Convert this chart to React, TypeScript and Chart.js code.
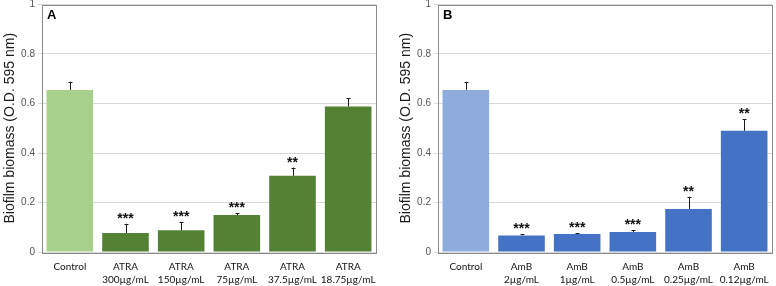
import React, { useEffect, useRef } from "react";
import { Chart, registerables } from "chart.js";

Chart.register(...registerables);

// ---- Data ----
const labelsA: string[][] = [
  ["Control"],
  ["ATRA", "300µg/mL"],
  ["ATRA", "150µg/mL"],
  ["ATRA", "75µg/mL"],
  ["ATRA", "37.5µg/mL"],
  ["ATRA", "18.75µg/mL"],
];
const valuesA = [0.655, 0.077, 0.088, 0.15, 0.308, 0.588];
const errTopA = [0.688, 0.114, 0.121, 0.157, 0.341, 0.622];
const starsA = ["", "***", "***", "***", "**", ""];

const labelsB: string[][] = [
  ["Control"],
  ["AmB", "2µg/mL"],
  ["AmB", "1µg/mL"],
  ["AmB", "0.5µg/mL"],
  ["AmB", "0.25µg/mL"],
  ["AmB", "0.12µg/mL"],
];
const valuesB = [0.655, 0.067, 0.073, 0.081, 0.174, 0.49];
const errTopB = [0.688, 0.071, 0.076, 0.089, 0.223, 0.537];
const starsB = ["", "***", "***", "***", "**", "**"];

const yTitle = "Biofilm biomass (O.D. 595 nm)";

const overlayPlugin = {
  id: "overlay",
  afterDatasetsDraw(chart: any, _args: any, opts: any) {
    const ctx = chart.ctx;
    const area = chart.chartArea;
    const meta = chart.getDatasetMeta(0);
    const y = chart.scales.y;
    ctx.save();
    // error bars
    ctx.strokeStyle = "#1a1a1a";
    ctx.lineWidth = 1;
    meta.data.forEach((bar: any, i: number) => {
      const x = Math.round(bar.x) + 0.5;
      const yTop = y.getPixelForValue(opts.errTop[i]);
      const yBar = y.getPixelForValue(opts.values[i]);
      ctx.beginPath();
      ctx.moveTo(x, yBar);
      ctx.lineTo(x, yTop);
      ctx.moveTo(x - 2, Math.round(yTop) + 0.5);
      ctx.lineTo(x + 2, Math.round(yTop) + 0.5);
      ctx.stroke();
      const s = opts.stars[i];
      if (s) {
        ctx.fillStyle = "#111";
        ctx.font = "bold 14px 'Liberation Sans', Arial, sans-serif";
        ctx.textAlign = "center";
        ctx.textBaseline = "alphabetic";
        ctx.fillText(s, bar.x, yTop - 1);
      }
    });
    // box
    ctx.strokeStyle = "#8a8a8a";
    ctx.lineWidth = 1;
    ctx.strokeRect(
      Math.round(area.left) + 0.5,
      Math.round(area.top) + 0.5,
      Math.round(area.right - area.left),
      Math.round(area.bottom - area.top)
    );
    // panel letter
    ctx.fillStyle = "#000";
    ctx.font = "bold 13px 'Liberation Sans', Arial, sans-serif";
    ctx.textAlign = "left";
    ctx.textBaseline = "alphabetic";
    ctx.fillText(opts.letter, area.left + 5, area.top + 14);
    ctx.restore();
  },
};

function makeConfig(
  labels: string[][],
  values: number[],
  errTop: number[],
  stars: string[],
  light: string,
  dark: string,
  letter: string
): any {
  return {
    type: "bar",
    data: {
      labels,
      datasets: [
        {
          data: values,
          backgroundColor: values.map((_, i) => (i === 0 ? light : dark)),
          borderWidth: 0,
          barPercentage: 0.837,
          categoryPercentage: 1,
        },
      ],
    },
    options: {
      responsive: false,
      animation: false,
      devicePixelRatio: 1,
      layout: { padding: { top: 4.5, right: 4, left: 0, bottom: 0 } },
      plugins: {
        legend: { display: false },
        tooltip: { enabled: false },
        overlay: { values, errTop, stars, letter },
      },
      scales: {
        x: {
          grid: { display: false, drawTicks: false },
          border: { display: false },
          ticks: {
            font: { family: "Lato, 'Open Sans', sans-serif", size: 10, lineHeight: 1.35 },
            color: "#111",
            padding: 8,
            maxRotation: 0,
            minRotation: 0,
            autoSkip: false,
          },
          afterFit(s: any) {
            s.height = 34;
            s.paddingLeft = 0;
            s.paddingRight = 0;
          },
        },
        y: {
          min: 0,
          max: 1,
          ticks: {
            stepSize: 0.2,
            font: { family: "'Liberation Sans', Arial, sans-serif", size: 10, lineHeight: 1.0 },
            color: "#555",
            padding: 3,
            callback: (v: number) => (v === 0 ? "0" : v === 1 ? "1" : v.toFixed(1)),
          },
          grid: { color: "#d9d9d9", tickLength: 4, lineWidth: 1 },
          border: { display: false },
          title: {
            display: true,
            text: yTitle,
            font: { family: "'Liberation Sans', Arial, sans-serif", size: 14 },
            color: "#1a1a1a",
            padding: { top: 2, bottom: 0 },
          },
          afterFit(s: any) {
            s.width = 42;
            s.paddingTop = 0;
            s.paddingBottom = 0;
          },
        },
      },
    },
    plugins: [overlayPlugin],
  };
}

function Panel(props: {
  left: number;
  width: number;
  config: () => any;
}) {
  const ref = useRef<HTMLCanvasElement | null>(null);
  useEffect(() => {
    if (!ref.current) return;
    const chart = new Chart(ref.current, props.config());
    return () => chart.destroy();
  }, []);
  return (
    <canvas
      ref={ref}
      width={props.width}
      height={286}
      style={{ position: "absolute", left: props.left, top: 0, width: props.width, height: 286 }}
    />
  );
}

export default function App() {
  return (
    <div
      style={{
        position: "absolute",
        left: 0,
        top: 0,
        width: 776,
        height: 286,
        background: "#fff",
        overflow: "hidden",
      }}
    >
      <Panel
        left={0}
        width={380}
        config={() => makeConfig(labelsA, valuesA, errTopA, starsA, "#a9d18e", "#548235", "A")}
      />
      <Panel
        left={396}
        width={380}
        config={() => makeConfig(labelsB, valuesB, errTopB, starsB, "#8faadc", "#4472c4", "B")}
      />
    </div>
  );
}
